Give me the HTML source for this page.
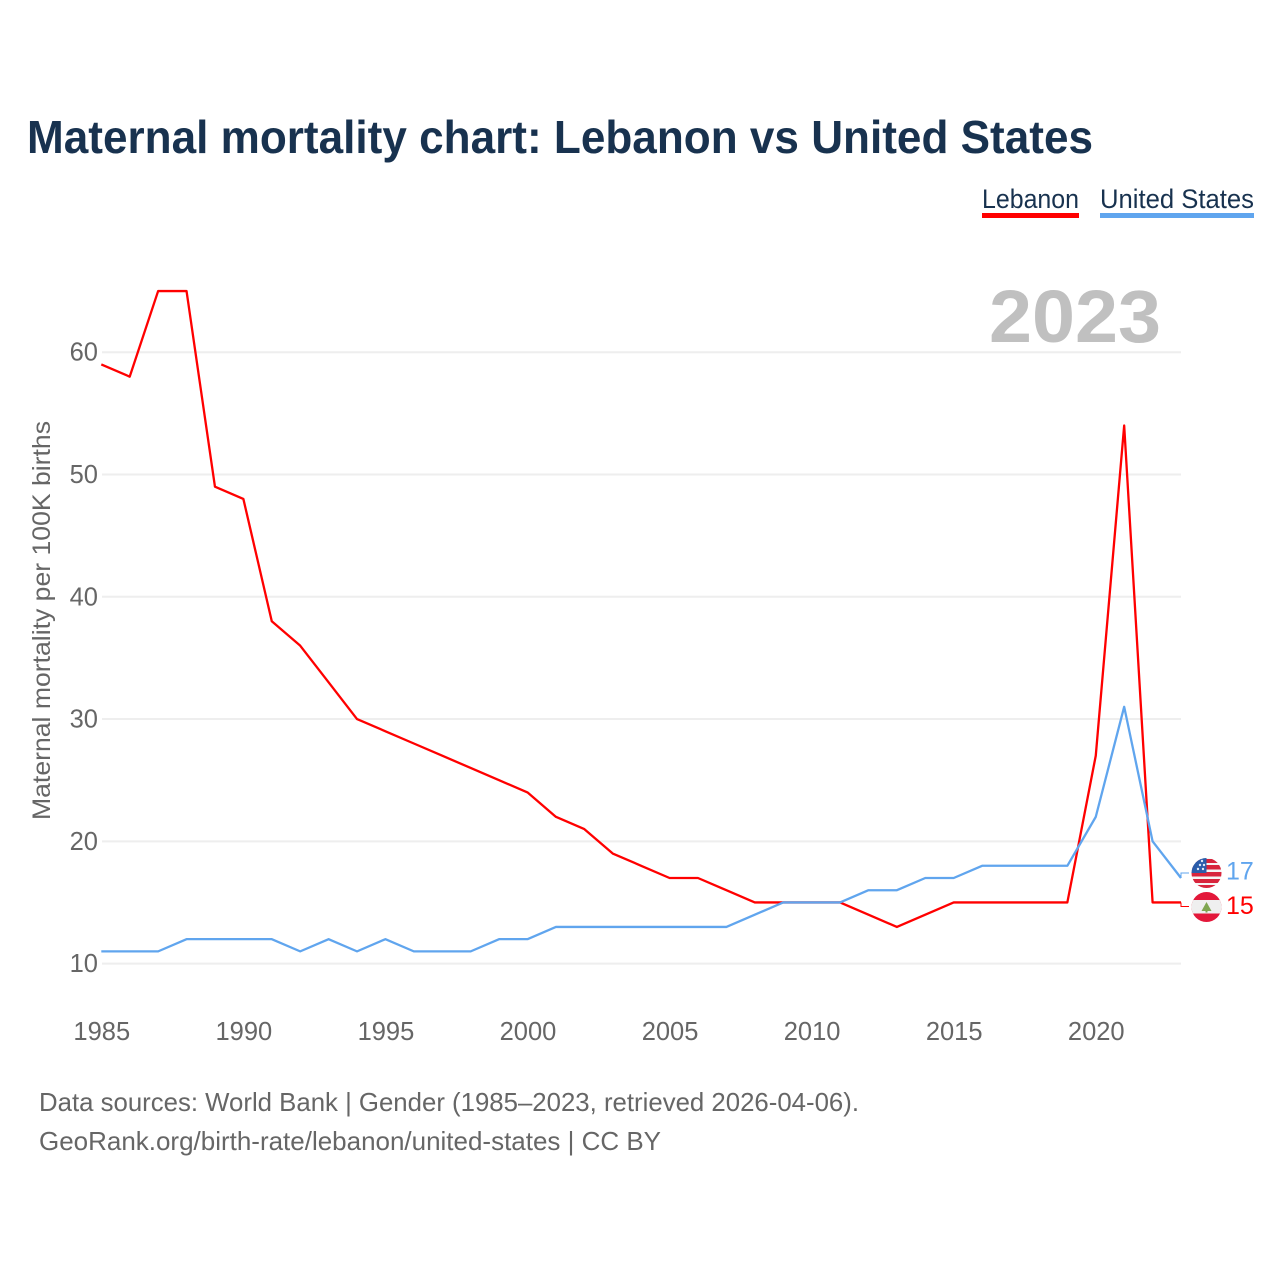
<!DOCTYPE html>
<html lang="en">
<head>
<meta charset="utf-8">
<title>Maternal mortality chart: Lebanon vs United States</title>
<style>
html,body{margin:0;padding:0;background:#fff}
svg{display:block}
text{font-family:"Liberation Sans",sans-serif}
</style>
</head>
<body>
<svg id="chart" xmlns="http://www.w3.org/2000/svg" width="1280" height="1280" viewBox="0 0 1280 1280">
  <defs>
    <clipPath id="clip-us"><circle cx="1206.5" cy="873" r="15"/></clipPath>
    <clipPath id="clip-lb"><circle cx="1206.5" cy="907" r="15"/></clipPath>
  </defs>
  <rect width="1280" height="1280" fill="#fff"/>
  <text x="27" y="153" font-size="46" font-weight="700" fill="#18324f" textLength="1066" lengthAdjust="spacingAndGlyphs">Maternal mortality chart: Lebanon vs United States</text>

  <g>
    <text x="982" y="208" font-size="27" fill="#18324f" textLength="97" lengthAdjust="spacingAndGlyphs">Lebanon</text>
    <rect x="982" y="213" width="97" height="5" fill="#ff0000"/>
  </g>
  <g>
    <text x="1100" y="208" font-size="27" fill="#18324f" textLength="154" lengthAdjust="spacingAndGlyphs">United States</text>
    <rect x="1100" y="213" width="154" height="5" fill="#60a5ee"/>
  </g>

  <text x="1161" y="342" text-anchor="end" font-size="74" font-weight="700" fill="#c0c0c0" textLength="172" lengthAdjust="spacingAndGlyphs">2023</text>

  <g id="grid"></g>
  <g id="y-axis"></g>
  <g id="x-axis"></g>

  <text transform="translate(50,820) rotate(-90)" font-size="25" fill="#666" textLength="399" lengthAdjust="spacingAndGlyphs">Maternal mortality per 100K births</text>

  <g id="series"></g>

  <g clip-path="url(#clip-us)">
    <rect x="1191" y="858" width="31" height="30" fill="#f4f4f4"/>
    <rect x="1191" y="859" width="31" height="4" fill="#d8243c"/>
    <rect x="1191" y="865" width="31" height="4.500" fill="#d8243c"/>
    <rect x="1191" y="872" width="31" height="4.500" fill="#d8243c"/>
    <rect x="1191" y="879" width="31" height="4" fill="#d8243c"/>
    <rect x="1191" y="885" width="31" height="4" fill="#d8243c"/>
    <rect x="1191" y="858" width="15.500" height="15" fill="#2a5caa"/>
    <circle cx="1198" cy="869" r="1.200" fill="#dfe7f5"/><circle cx="1203" cy="869" r="1.200" fill="#dfe7f5"/>
    <circle cx="1200" cy="865" r="1.200" fill="#dfe7f5"/><circle cx="1204" cy="865" r="1.200" fill="#dfe7f5"/>
    <circle cx="1202" cy="861" r="1.200" fill="#dfe7f5"/>
  </g>
  <g clip-path="url(#clip-lb)">
    <rect x="1191" y="892" width="31" height="31" fill="#e3183a"/>
    <rect x="1191" y="900" width="31" height="13.500" fill="#efefef"/>
    <polygon points="1206.5,902 1211.5,911 1207.500,911 1207.500,912.500 1205.500,912.500 1205.500,911 1201.500,911" fill="#7fa650"/>
  </g>

  <text id="end-label-us" x="1226" y="879.500" font-size="25" fill="#60a5ee">17</text>
  <text id="end-label-lb" x="1226" y="914" font-size="25" fill="#ff0000">15</text>

  <text x="39" y="1111" font-size="26" fill="#666" textLength="820" lengthAdjust="spacingAndGlyphs">Data sources: World Bank | Gender (1985–2023, retrieved 2026-04-06).</text>
  <text x="39" y="1150" font-size="26" fill="#666" textLength="622" lengthAdjust="spacingAndGlyphs">GeoRank.org/birth-rate/lebanon/united-states | CC BY</text>
</svg>
<script>
const years = [1985,1986,1987,1988,1989,1990,1991,1992,1993,1994,1995,1996,1997,1998,1999,2000,2001,2002,2003,2004,2005,2006,2007,2008,2009,2010,2011,2012,2013,2014,2015,2016,2017,2018,2019,2020,2021,2022,2023];
const lebanon = [59,58,65,65,49,48,38,36,33,30,29,28,27,26,25,24,22,21,19,18,17,17,16,15,15,15,15,14,13,14,15,15,15,15,15,27,54,15,15];
const unitedStates = [11,11,11,12,12,12,12,11,12,11,12,11,11,11,12,12,13,13,13,13,13,13,13,14,15,15,15,16,16,17,17,18,18,18,18,22,31,20,17];
const yTicks = [10,20,30,40,50,60];
const xTicks = [1985,1990,1995,2000,2005,2010,2015,2020];

const NS = 'http://www.w3.org/2000/svg';
const x = function (year) { return 101.3 + (year - 1985) * (1181 - 101.3) / (2023 - 1985); };
const y = function (value) { return 963.6 - (value - 10) * (963.6 - 352.2) / 50; };

const grid = document.getElementById('grid');
const yAxis = document.getElementById('y-axis');
const xAxis = document.getElementById('x-axis');
const series = document.getElementById('series');

yTicks.forEach(function (tick) {
  const line = document.createElementNS(NS, 'line');
  
  
  line.setAttribute('x1', 102);
  line.setAttribute('x2', 1181);
  line.setAttribute('y1', y(tick));
  line.setAttribute('y2', y(tick));
  line.setAttribute('stroke', '#eeeeee');
  line.setAttribute('stroke-width', 2);
  grid.appendChild(line);

  const label = document.createElementNS(NS, 'text');
  
  
  label.setAttribute('x', 98);
  label.setAttribute('y', y(tick) + 8.5);
  label.setAttribute('text-anchor', 'end');
  label.setAttribute('font-size', 25.5);
  label.setAttribute('fill', '#666');
  label.textContent = tick;
  yAxis.appendChild(label);
});

xTicks.forEach(function (tick) {
  const label = document.createElementNS(NS, 'text');
  
  
  label.setAttribute('x', x(tick) + 0.5);
  label.setAttribute('y', 1040);
  label.setAttribute('text-anchor', 'middle');
  label.setAttribute('font-size', 25.5);
  label.setAttribute('fill', '#666');
  label.textContent = tick;
  xAxis.appendChild(label);
});

function drawSeries(values, color, name) {
  const path = document.createElementNS(NS, 'polyline');
  
  
  path.setAttribute('points', values.map(function (v, i) { return x(years[i]) + ',' + y(v); }).join(' '));
  path.setAttribute('fill', 'none');
  path.setAttribute('stroke', color);
  path.setAttribute('stroke-width', 2.3);
  path.setAttribute('stroke-linejoin', 'round');
  series.appendChild(path);
}

function drawConnector(value, flagY, color, name) {
  const end = years[years.length - 1];
  const path = document.createElementNS(NS, 'polyline');
  
  
  path.setAttribute('points', [x(end), y(value), x(end), flagY, x(end) + 8, flagY].join(' '));
  path.setAttribute('fill', 'none');
  path.setAttribute('stroke', color);
  path.setAttribute('stroke-width', 1);
  series.appendChild(path);
}

drawSeries(lebanon, '#ff0000', 'line-lebanon');
drawSeries(unitedStates, '#60a5ee', 'line-united-states');
drawConnector(unitedStates[unitedStates.length - 1], 873, '#60a5ee', 'connector-united-states');
drawConnector(lebanon[lebanon.length - 1], 906.5, '#ff0000', 'connector-lebanon');

document.getElementById('end-label-us').textContent = unitedStates[unitedStates.length - 1];
document.getElementById('end-label-lb').textContent = lebanon[lebanon.length - 1];
</script>
</body>
</html>
